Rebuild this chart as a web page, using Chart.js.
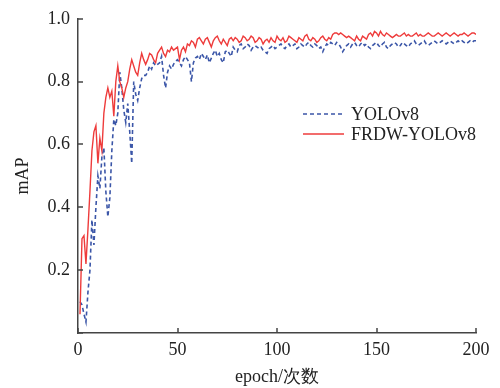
<!DOCTYPE html>
<html>
<head>
<meta charset="utf-8">
<script src="https://cdn.jsdelivr.net/npm/chart.js@4/dist/chart.umd.min.js"></script>
<style>
  html, body { margin: 0; padding: 0; background: #fff; }
  #wrap { width: 500px; height: 388px; position: relative; }
</style>
</head>
<body>
<div id="wrap"><canvas id="map-chart"></canvas></div>
<script>
// epochs 1..200
const epochs = Array.from({ length: 200 }, (_, i) => i + 1);

const seriesNames = ['YOLOv8', 'FRDW-YOLOv8'];

// YOLOv8 mAP per epoch
const yoloMap = [
  0.10, 0.09, 0.06, 0.035, 0.13, 0.20, 0.36, 0.28, 0.40, 0.50,
  0.46, 0.56, 0.59, 0.45, 0.37, 0.43, 0.58, 0.68, 0.66, 0.70,
  0.83, 0.78, 0.71, 0.67, 0.73, 0.64, 0.54, 0.80, 0.76, 0.74,
  0.78, 0.81, 0.82, 0.82, 0.83, 0.85, 0.84, 0.86, 0.85, 0.855,
  0.86, 0.88, 0.82, 0.78, 0.83, 0.85, 0.84, 0.855, 0.865, 0.87,
  0.86, 0.85, 0.87, 0.88, 0.87, 0.86, 0.80, 0.86, 0.875, 0.88,
  0.87, 0.89, 0.88, 0.87, 0.885, 0.86, 0.875, 0.89, 0.90, 0.88,
  0.89, 0.87, 0.86, 0.895, 0.90, 0.89, 0.88, 0.91, 0.90, 0.895,
  0.915, 0.92, 0.905, 0.91, 0.92, 0.915, 0.90, 0.91, 0.915, 0.91,
  0.905, 0.91, 0.90, 0.895, 0.89, 0.905, 0.91, 0.915, 0.905, 0.91,
  0.915, 0.92, 0.91, 0.905, 0.915, 0.92, 0.91, 0.915, 0.92, 0.905,
  0.91, 0.92, 0.915, 0.91, 0.92, 0.925, 0.915, 0.91, 0.92, 0.915,
  0.905, 0.91, 0.895, 0.91, 0.92, 0.915, 0.925, 0.92, 0.915, 0.925,
  0.92, 0.91, 0.895, 0.905, 0.915, 0.92, 0.91, 0.92, 0.925, 0.915,
  0.91, 0.92, 0.925, 0.915, 0.92, 0.91, 0.905, 0.915, 0.92, 0.925,
  0.915, 0.91, 0.92, 0.925, 0.91, 0.905, 0.915, 0.92, 0.925, 0.92,
  0.91, 0.915, 0.925, 0.92, 0.915, 0.91, 0.92, 0.925, 0.93, 0.92,
  0.915, 0.92, 0.925, 0.93, 0.92, 0.915, 0.92, 0.925, 0.93, 0.925,
  0.92, 0.925, 0.93, 0.925, 0.92, 0.925, 0.93, 0.925, 0.92, 0.925,
  0.93, 0.925, 0.93, 0.925, 0.92, 0.925, 0.93, 0.925, 0.93, 0.93
];

// FRDW-YOLOv8 mAP per epoch
const frdwMap = [
  0.06, 0.30, 0.31, 0.22, 0.33, 0.45, 0.58, 0.64, 0.66, 0.54,
  0.62, 0.58, 0.70, 0.75, 0.78, 0.75, 0.77, 0.69, 0.80, 0.85,
  0.80, 0.78, 0.75, 0.78, 0.80, 0.84, 0.87, 0.85, 0.83, 0.82,
  0.86, 0.89, 0.87, 0.855, 0.87, 0.89, 0.885, 0.87, 0.86, 0.89,
  0.90, 0.91, 0.89, 0.88, 0.90, 0.895, 0.91, 0.90, 0.905, 0.91,
  0.87, 0.90, 0.91, 0.895, 0.92, 0.915, 0.93, 0.925, 0.91, 0.935,
  0.94, 0.93, 0.92, 0.935, 0.94, 0.925, 0.91, 0.93, 0.94, 0.945,
  0.93, 0.92, 0.935, 0.925, 0.915, 0.935, 0.94, 0.93, 0.94, 0.935,
  0.925, 0.93, 0.945, 0.94, 0.93, 0.935, 0.945, 0.94, 0.925, 0.93,
  0.94, 0.935, 0.92, 0.93, 0.935, 0.925, 0.94, 0.93, 0.925, 0.945,
  0.935, 0.93, 0.94, 0.925, 0.93, 0.945, 0.94, 0.935, 0.93, 0.925,
  0.94, 0.935, 0.93, 0.945, 0.95, 0.935, 0.93, 0.94, 0.935, 0.925,
  0.93, 0.94, 0.945, 0.935, 0.93, 0.94, 0.935, 0.95, 0.955, 0.955,
  0.95, 0.955, 0.95, 0.945, 0.94, 0.945, 0.94, 0.935, 0.93, 0.945,
  0.935, 0.93, 0.945, 0.94, 0.935, 0.95, 0.955, 0.945, 0.96, 0.955,
  0.945, 0.96, 0.95, 0.945, 0.955, 0.95, 0.945, 0.94, 0.945, 0.95,
  0.945, 0.945, 0.95, 0.955, 0.945, 0.95, 0.945, 0.945, 0.95, 0.955,
  0.945, 0.95, 0.945, 0.945, 0.95, 0.955, 0.95, 0.945, 0.945, 0.95,
  0.955, 0.95, 0.945, 0.95, 0.955, 0.95, 0.945, 0.95, 0.955, 0.95,
  0.945, 0.95, 0.95, 0.955, 0.95, 0.945, 0.95, 0.955, 0.955, 0.95
];

const xTicks = [0, 50, 100, 150, 200];
const yTicks = [0.2, 0.4, 0.6, 0.8, 1.0];

const blue = '#3b56a8';
const red = '#ee3b3b';
const axisColor = '#444';
const serif = '"Liberation Serif", "Times New Roman", serif';

// small inward tick marks on both axes
const inwardTicks = {
    id: 'inwardTicks',
    afterDraw(chart) {
        const ctx = chart.ctx;
        const xs = chart.scales.x;
        const ys = chart.scales.y;
        const area = chart.chartArea;
        ctx.save();
        ctx.strokeStyle = axisColor;
        ctx.lineWidth = 1.5;
        xTicks.forEach(v => {
            const px = Math.round(xs.getPixelForValue(v));
            ctx.beginPath();
            ctx.moveTo(px, area.bottom);
            ctx.lineTo(px, area.bottom - 5);
            ctx.stroke();
        });
        [0].concat(yTicks).forEach(v => {
            const py = Math.round(ys.getPixelForValue(v));
            ctx.beginPath();
            ctx.moveTo(area.left, py);
            ctx.lineTo(area.left + 5, py);
            ctx.stroke();
        });
        ctx.restore();
    }
};

// legend drawn inside the plot, right of centre
const innerLegend = {
    id: 'innerLegend',
    afterDraw(chart) {
        const ctx = chart.ctx;
        ctx.save();
        ctx.font = '18px ' + serif;
        ctx.textBaseline = 'middle';
        chart.data.datasets.forEach((ds, i) => {
            const y = 114 + i * 20;
            ctx.strokeStyle = ds.borderColor;
            ctx.lineWidth = 1.6;
            ctx.setLineDash(ds.borderDash || []);
            ctx.beginPath();
            ctx.moveTo(303, y);
            ctx.lineTo(344, y);
            ctx.stroke();
            ctx.setLineDash([]);
            ctx.fillStyle = '#222';
            ctx.fillText(ds.label, 351, y + 1);
        });
        ctx.restore();
    }
};

document.addEventListener('DOMContentLoaded', function() {
    const ctx = document.getElementById('map-chart');
    new Chart(ctx, {
        type: 'line',
        data: {
            datasets: [
                {
                    label: seriesNames[0],
                    data: epochs.map((e, i) => ({ x: e, y: yoloMap[i] })),
                    borderColor: blue,
                    borderWidth: 1.6,
                    borderDash: [4, 3],
                    pointRadius: 0,
                    tension: 0,
                    fill: false,
                    order: 2
                },
                {
                    label: seriesNames[1],
                    data: epochs.map((e, i) => ({ x: e, y: frdwMap[i] })),
                    borderColor: red,
                    borderWidth: 1.4,
                    pointRadius: 0,
                    tension: 0,
                    fill: false,
                    order: 1
                }
            ]
        },
        options: {
            responsive: true,
            maintainAspectRatio: false,
            animation: false,
            layout: { padding: { top: 16, right: 24, left: 0, bottom: 0 } },
            plugins: {
                legend: { display: false },
                tooltip: { enabled: false }
            },
            scales: {
                x: {
                    type: 'linear',
                    min: 0,
                    max: 200,
                    afterFit(scale) { scale.height = 55; },
                    afterBuildTicks(scale) { scale.ticks = xTicks.map(v => ({ value: v })); },
                    grid: { display: false, drawTicks: false },
                    border: { display: true, color: axisColor, width: 1.5 },
                    ticks: {
                        color: '#222',
                        padding: 6,
                        maxRotation: 0,
                        font: { family: serif, size: 18 }
                    },
                    title: {
                        display: true,
                        text: 'epoch/次数',
                        color: '#222',
                        padding: { top: 0, bottom: 0 },
                        font: { family: serif, size: 18 }
                    }
                },
                y: {
                    min: 0,
                    max: 1.0,
                    afterFit(scale) { scale.width = 78; },
                    afterBuildTicks(scale) { scale.ticks = yTicks.map(v => ({ value: v })); },
                    grid: { display: false, drawTicks: false },
                    border: { display: true, color: axisColor, width: 1.5 },
                    ticks: {
                        color: '#222',
                        padding: 8,
                        font: { family: serif, size: 18 },
                        callback: v => v.toFixed(1)
                    },
                    title: {
                        display: true,
                        text: 'mAP',
                        color: '#222',
                        padding: { top: 12, bottom: 0 },
                        font: { family: serif, size: 18 }
                    }
                }
            }
        },
        plugins: [inwardTicks, innerLegend]
    });
});
</script>
</body>
</html>
